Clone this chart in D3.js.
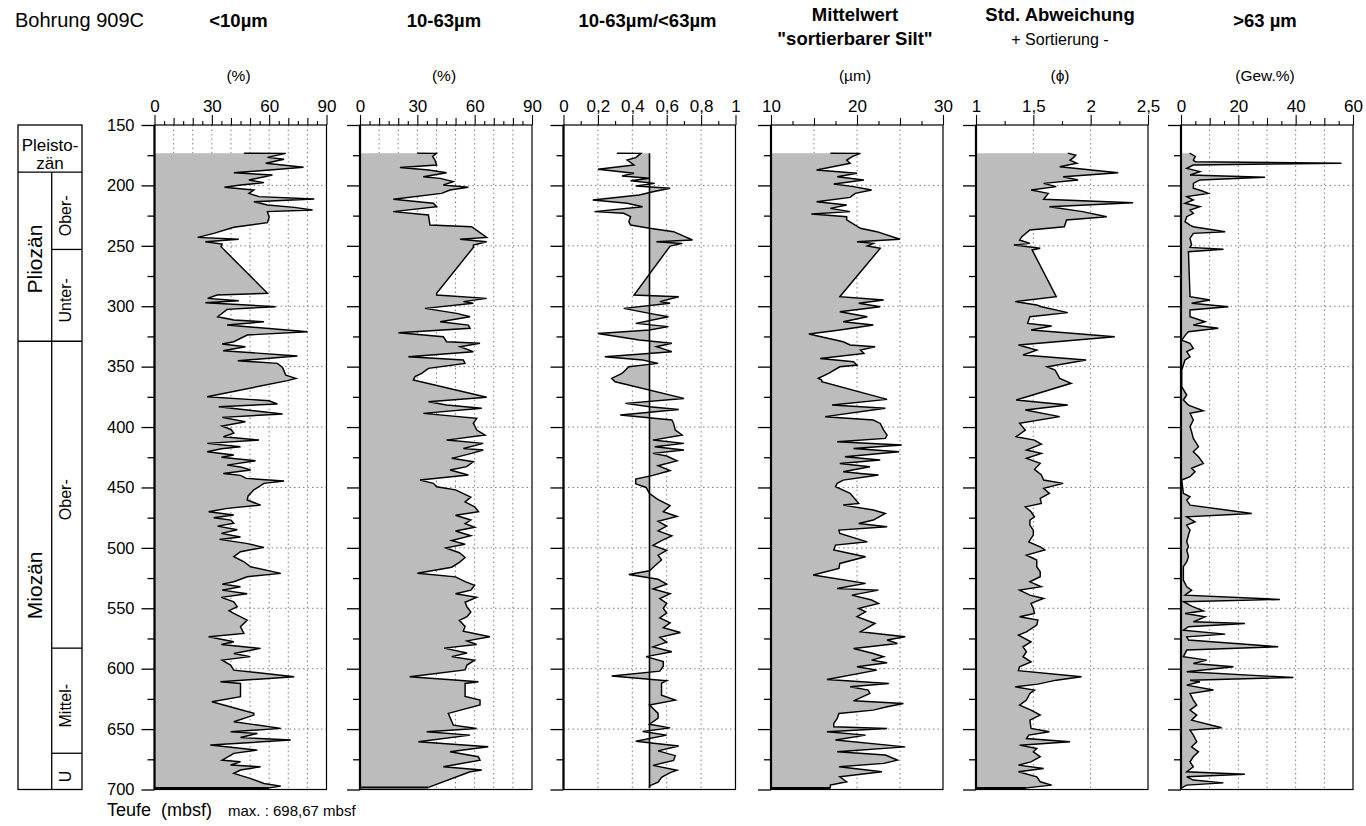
<!DOCTYPE html>
<html><head><meta charset="utf-8">
<script src="https://cdn.jsdelivr.net/npm/d3@7"></script>
<style>
body{margin:0;background:#fff}
svg{display:block}
text{font-family:"Liberation Sans",Arial,Helvetica,sans-serif;fill:#000}
</style></head>
<body><svg id="chart" width="1366" height="826"></svg>
<script>
// ---------------- DATA ----------------
const depthTicks = [150,200,250,300,350,400,450,500,550,600,650,700];
const depthMinor = [175,225,275,325,375,425,475,525,575,625,675];
const depthGrid = [200,250,300,350,400,450,500,550,600,650];

const epochNames = ["Pliozän","Miozän"];
const epochTops = [189,329];
const epochBottoms = [329,700];
const epochLabelDepth = [261,531];
const pleistoTop = 150, pleistoBottom = 189;
const subNames = ["Ober-","Unter-","Ober-","Mittel-","U"];
const subTops = [189,253,329,583,670];
const subBottoms = [253,329,583,670,700];

// <10 µm (%)
const depth1 = [173.3,173.5,176.8,178.4,181.7,185.0,189.5,191.4,195.5,197.7,199.7,201.6,203.8,206.6,209.3,211.3,213.5,216.2,218.2,220.4,221.7,226.4,230.8,234.7,239.7,243.0,244.6,246.6,248.5,250.7,289.3,290.7,293.5,295.4,297.1,300.4,302.6,308.7,311.4,312.8,315.6,321.1,323.8,329.4,331.3,333.5,336.8,341.2,345.1,347.3,350.6,357.0,359.7,361.6,374.9,378.2,380.9,383.2,385.9,389.2,392.0,395.6,399.2,402,405,408,410.8,413.5,416.3,418,420.4,423.2,425,427.9,431.5,433,435.6,438.4,440,442.5,444.7,446.6,452,457,460.4,464.6,467.3,470.1,472.8,475,477,479.7,482,485,488,491,493,496.3,499.6,503.2,507.3,511.5,515.6,521.1,523.9,528,530,532.2,535,538,541,544.6,548.7,552,554.2,559.8,565.3,570.8,573.6,577.7,580,583.2,587.4,590,592.9,597,601.2,606.7,610.8,612.2,623.2,627.4,637,638.4,643.9,649.4,652.2,653.6,657,659.1,663.2,667.4,670.1,675.7,677,679.8,681.2,683.9,686.7,690.8,695,697.2,698.67];
const lt10 = [46.8,68.7,59.1,67.8,58.2,78.0,41.5,61.7,49.4,57.3,45.0,36.6,52.0,49.4,54.7,83.6,52.0,59.1,73.1,82.7,59.1,60.0,59.1,41.5,31.0,22.6,44.1,26.6,35.4,34.8,59.1,32.7,27.8,44.1,26.6,63.4,38.0,33.1,41.5,57.3,38.0,80.1,48.5,41.5,35.4,47.6,35.9,74.8,43.6,64.3,67.0,68.7,74.0,69.6,27.5,59.9,64.3,33.6,48.5,67.0,35.4,47.6,35.4,40,41.5,36,54.7,27.5,45,35,27.5,41.5,35,52.9,38,45,50.3,36,45,48,67.8,57.3,52,49,48.5,55.5,38,28.3,41.5,31,40,41.5,33,43.3,35,45,34,48,57.3,45,41.5,46.8,50.3,66.1,48.5,41.5,35.4,45,35.4,48.5,35,41.5,43.3,39,41.5,48.5,45,46.8,28.3,41.5,35,55.5,41.5,50,35.4,39.8,41.5,73.1,34.5,45,45,30,52,52,41.5,66.1,39.8,53.8,45,71.3,29.2,53.8,41.5,35.4,45,39.8,55.5,45,41.5,50,57.3,66.1,60];

// 10-63 µm (%)
const depth2 = [173.3,173.5,176,179,183.1,185.1,187.3,189.5,192.8,194.2,196.9,199.7,201.6,203.8,206.6,211.5,214.8,217.6,221.7,224.5,232.8,234.2,243,244.6,246.6,249.3,251.3,289.3,290.7,293.5,296.2,297.6,301.8,305.9,308.7,312.8,315.6,318.3,321.9,325.2,329.4,330.7,333.5,337.6,341.8,344.5,347.3,351.4,355.6,358.3,361.1,375.4,379,381.8,384.5,388.7,392.8,396.9,402.5,406.6,410.8,413.5,417.7,419,421.8,425.9,428.7,432.8,435.6,439.7,443.9,446.6,449.4,452,458,462,466,470,473,477,480,483,486,490,494,497,500,504,508,512,516,521,524,528,531,535,538,541,545,549,553,557,560,565,569,573.6,577,580,583,587,590,593,597,601,606.7,610.8,612.2,623,626,630.1,637,646.7,649.5,652.2,655,660.5,664.6,668.8,672.9,675.7,681.2,683.9,685.3,698.3];
const silt = [30,40,38,39.2,40.1,20.9,36,45.3,33.1,41.9,48.8,43.6,56.7,47.1,42.7,17.4,38.4,40.1,17.4,35.8,36.6,58.4,66.3,52.3,66.3,59.3,59.3,40.1,40.1,66.3,54.1,59.3,34,50.6,57.6,41.9,56.7,57.6,20.1,43.6,45.3,62.8,52.3,59.3,25.3,54.1,54.9,35.8,32.3,28.8,27.9,66.3,35.8,45.3,63.7,33.1,61.1,59.3,61.1,65.4,45.3,64.5,54.1,64.5,58.4,48,59.3,55.8,47.1,56.7,31.4,38.4,40.1,50,58,55,60,62,50,58,55,60,50,58,48,55,45,52,55,52,48,30,50,55,60,58,50,61,55,56,58,56,52,55,54,68,56,61,44,56,48,60,56,55,26,62,55,55,62.8,62.8,46.2,48.8,61,34.9,57.6,30.5,67.1,47.1,61.9,62.8,43.6,63.7,57.6,35.8];

// 10-63 µm / <63 µm
const depth3 = [173.3,173.5,177,179,183.1,186.7,190,192.2,194.1,196.1,198.3,200.5,202.4,205.2,207.9,212.1,214.8,217.6,221.7,223.1,225.9,230,232.8,235.5,238.3,245.2,246.6,248,250.2,252.1,290.7,292.1,296.2,297.6,301.8,305.9,308.7,314.2,316.9,319.7,322.5,328,330.7,333.5,337.6,341.8,344.5,347.3,350.1,355.6,359.7,362.5,376.3,380.4,383.2,385.4,390.1,394.2,397,402.5,406.6,410.8,413.5,416.3,419,421.8,424,428,432,436,440,443,447,450,455,460,465,470,474,478,482,486,490,494,498,502,506,510,515,519,522,526,530,534,538,542,546,550,554,558,562,566,570,574,578,582,586,590,594,598,602,606,610,612,622,626,630,637,641,646,649,652,655,660,664,668,672,676,680,684,686,690,694,697,698.67];
const ratio = [0.31,0.45,0.42,0.37,0.41,0.20,0.41,0.34,0.50,0.39,0.53,0.42,0.62,0.52,0.44,0.17,0.37,0.46,0.18,0.35,0.39,0.38,0.39,0.50,0.64,0.75,0.54,0.69,0.62,0.61,0.41,0.67,0.56,0.62,0.35,0.50,0.61,0.42,0.61,0.50,0.20,0.44,0.63,0.54,0.63,0.24,0.46,0.55,0.38,0.34,0.28,0.30,0.70,0.36,0.50,0.67,0.33,0.63,0.64,0.65,0.69,0.52,0.70,0.53,0.70,0.52,0.6,0.66,0.55,0.62,0.52,0.42,0.42,0.48,0.50,0.55,0.62,0.58,0.66,0.55,0.60,0.55,0.63,0.57,0.52,0.60,0.55,0.57,0.53,0.5,0.38,0.55,0.6,0.52,0.62,0.56,0.6,0.58,0.6,0.56,0.62,0.58,0.68,0.56,0.6,0.52,0.63,0.48,0.58,0.58,0.56,0.28,0.6,0.57,0.57,0.65,0.5,0.55,0.55,0.50,0.62,0.46,0.6,0.42,0.67,0.55,0.65,0.64,0.52,0.66,0.62,0.57,0.55,0.5,0.5];

// Mittelwert "sortierbarer Silt" (µm)
const depth4 = [173.3,173.5,176,179,181.7,187.3,190,192.8,195.5,198.8,201,203.8,206.6,209.9,213.5,216.2,219,221.7,223.7,225.9,228.6,235.5,238.3,244.6,246.6,248,250.2,252.1,292.1,294.9,297.6,300.4,304.5,308.7,312.8,315.6,319.7,323,329.4,332.1,333.5,336.3,339,343.2,345.9,348.7,350.1,355.6,359.7,361.1,362.5,377.1,381.8,384.5,391.4,394.2,397,402.5,406.6,409.4,412.1,414.9,417.7,420.4,424.6,427.3,430.1,432.8,437,438.4,439.7,443.9,446.6,449.4,454.9,463.2,464.6,468.7,471.5,477,479.8,482.5,485.3,488,495,497.7,501.8,504.6,507.4,512.9,517,522.5,529.4,533.6,535,539.1,543.2,546,550.1,552.9,557,562.6,569.5,573.6,576.3,579.1,583.3,587.4,590.1,592.9,595.1,598.4,601.2,608.9,612.2,615,617.7,620.5,626.6,628.8,631.5,634.3,637.1,641.2,645.3,648.1,649.5,652.2,655,659.1,664.7,668.8,671.5,675.7,678.4,681.2,685.3,689.5,693.6,696.4,698.67];
const meanSS = [16.9,20.4,19.5,18.8,19.2,15.3,20,17.7,20.8,17.3,19.6,21.7,19.8,19.2,15.3,18.8,16.9,19.2,14.7,18.8,18.8,20.4,22.3,25,20,21.9,21.2,22.7,18,23.1,20.2,22.7,18,21.2,18.4,21.9,18,14.4,18.4,19.2,22.1,20.4,20.8,15.7,19.6,20,18,16.7,15.5,15.9,15.9,23.5,17.1,23.3,16.3,21.9,22.7,23.1,23.5,23.3,17.7,25.2,19.6,24.9,18.6,22.7,18,21.5,18.4,20.4,22.5,18.4,17.7,17.5,19.2,20.2,18.4,21.9,23.3,21.9,20.2,23.5,17.9,18,21.2,17.5,17.3,19.2,21,18,17.9,14.9,21,17.7,22.5,19.4,21.7,22.5,20.2,21,20,22.1,20.4,25.6,23.5,24.7,19.6,21.9,23.1,21.7,23.5,20,22.3,16.5,23.7,19.2,21.3,21.5,19.6,25.4,23.5,21.9,17.9,17.7,17.3,17.3,23.5,16.5,21,17.5,25.6,17.7,23.3,24.7,23.1,17.9,22.9,18,18.8,16.9,16.9];

// Std. Abweichung (phi)
const depth5 = [173.3,175,177,179,181.7,184.5,189.5,192.8,195.5,198.3,201,203.8,206.6,211.5,214.3,217.6,221.7,225.9,228.6,234.2,236.9,242.4,245.2,248,249.4,252,253.5,292.1,296.2,299,300.4,305.3,308.7,314.2,316.4,319.7,325.2,332.1,336.3,340.4,344.5,350.1,352.8,359.7,363.8,377.6,381.8,385.9,391.4,396.9,402.5,408,410.8,414.1,419,421.8,425.9,430.1,435,439.7,443.9,446.6,450.8,454.9,459.1,463.2,466,470.1,474.3,477,481.2,485.3,489.4,495,499.1,501.8,506,510.1,515.6,519.8,523.9,528.1,532.2,535,539.1,541.9,546,550.1,554.3,557,559.8,563.9,569.5,572.2,577.7,581.9,586,590.1,594.3,598.4,601.7,606.7,609.5,612.8,615,617.7,620.5,626,630.2,634.3,638.4,642.6,649.5,652.2,655,657.8,660.5,663.3,666,668.8,672.9,677.1,679.8,682.6,685.3,689.5,693.6,696.4,698.67];
const stdDev = [1.8,1.87,1.85,1.82,1.88,1.73,2.24,1.76,1.89,1.59,1.70,1.48,1.63,1.59,2.37,1.64,1.93,2.14,1.79,1.77,1.47,1.40,1.38,1.47,1.33,1.56,1.49,1.70,1.34,1.53,1.57,1.80,1.47,1.45,1.66,1.48,2.21,1.37,1.53,1.41,1.96,1.62,1.69,1.73,1.83,1.35,1.80,1.43,1.73,1.38,1.43,1.35,1.51,1.57,1.44,1.57,1.44,1.56,1.51,1.57,1.59,1.76,1.59,1.64,1.56,1.57,1.43,1.48,1.51,1.47,1.47,1.50,1.50,1.46,1.56,1.60,1.44,1.53,1.53,1.56,1.56,1.47,1.57,1.38,1.47,1.59,1.48,1.50,1.51,1.38,1.54,1.53,1.44,1.37,1.48,1.41,1.44,1.41,1.48,1.38,1.37,1.92,1.70,1.54,1.34,1.51,1.47,1.44,1.38,1.48,1.56,1.47,1.48,1.64,1.46,1.44,1.82,1.38,1.53,1.50,1.56,1.48,1.37,1.59,1.37,1.53,1.56,1.66,1.44];

// >63 µm (Gew.%)
const depth6 = [173.3,176,179,180.4,181.7,183.1,185.9,188.6,191.4,193.3,195.5,198.3,202.4,204.4,206.6,209.3,212.1,214.8,217.6,220.4,223.1,225.9,230,232.8,234.2,238.3,239.7,243.8,249.3,251.3,252.9,254.9,292.1,294.9,297.6,300.4,303.1,308.7,312.8,315.6,318.3,321.1,322.5,328,330.7,334.9,337.6,341.8,344.5,348.7,352.8,355.6,366.6,373.5,377.6,381.8,386.5,388.7,394.2,399.7,403.9,409.4,416.3,420.4,424.6,430.1,434.2,437,441.1,443.9,454.9,457.7,460.5,464.6,471.5,474.3,478.4,481.2,485.3,489.4,495,499.1,501.8,507.4,511.5,515.6,521.2,526.7,532.2,535,539.1,542.7,544.6,548.2,552.1,554.3,557,561.2,562.6,565.3,568.1,571.4,573.6,576.3,581.9,584.6,590.1,592.9,595.7,598.4,602.6,607.3,609.5,610.8,613.6,617.7,620.5,626,630.2,634.3,638.4,642.6,648.9,650.8,655,660.5,664.7,668.8,672.9,677.1,681.2,685.3,687.3,689.5,692.2,694.5,696.4,698.67];
const sand = [3,5,4.3,5,56,4.3,2,6.6,3.15,29.3,6.6,4.3,4.3,7.2,9.5,2,4.3,1.4,6.6,3.15,4.3,2,1.4,3.15,4.3,15.4,4.3,3.15,3.7,3.15,14.8,2.6,3.15,10.1,3.7,16.5,3.15,3.15,8.4,4.3,13,2.6,2,0.25,3.15,4.3,2,3.15,1.4,0.83,0.25,0.25,0.25,2,0.83,2.6,7.8,3.15,4.3,3.15,3.7,4.3,6.1,4.3,6.1,7.8,3.7,4.9,3.15,0.25,0.83,3.15,2,3.15,24.7,2,4.9,2,3.15,2.6,2,2.6,2,2.6,2,0.83,0.83,0.83,2,3.7,1.4,34.5,0.83,3.7,7.8,1.4,8.4,4.3,22.3,2.6,0.83,15.4,2,2.6,33.9,2,0.83,9,4.3,18.3,2,39.2,3.15,6.6,2,11.3,3.15,4.3,5.5,3.15,5.5,3.7,14.2,3.15,4.3,5.5,3.7,6.1,4.3,3.15,4.3,2,22.3,2,4.3,14.8,2,0.25];

// axis tick definitions
const ticks1 = [0,30,60,90], mid1 = [10,20,40,50,70,80], minor1 = [5,15,25,35,45,55,65,75,85], grid1 = [10,20,30,40,50,60,70,80];
const ticks3 = [0,0.2,0.4,0.6,0.8,1], minor3 = [0.1,0.3,0.5,0.7,0.9], grid3 = [0.2,0.4,0.6,0.8];
const ticks4 = [10,20,30], mid4 = [15,25], minor4 = [12.5,17.5,22.5,27.5], grid4 = [15,20,25];
const ticks5 = [1,1.5,2,2.5], minor5 = [1.25,1.75,2.25], grid5 = [1.5,2];
const ticks6 = [0,20,40,60], mid6 = [10,30,50], minor6 = [5,15,25,35,45,55], grid6 = [10,20,30,40,50];

// ---------------- LAYOUT ----------------
const svg = d3.select("#chart");
const W = 172;
const FILL = "#bcbcbc";
const y = d3.scaleLinear().domain([150,700]).range([125,789.5]);
const loc = d3.formatLocale({decimal:",",thousands:".",grouping:[3],currency:["","€"]});
const fmt = loc.format("~g");

const panels = [
  {x0:154.5, domain:[0,90], labels:ticks1, mid:mid1, minor:minor1, grid:grid1, depth:depth1, vals:lt10, base:0, title:["<10µm"], unit:"(%)"},
  {x0:360, domain:[0,90], labels:ticks1, mid:mid1, minor:minor1, grid:grid1, depth:depth2, vals:silt, base:0, title:["10-63µm"], unit:"(%)"},
  {x0:563.5, domain:[0,1], labels:ticks3, mid:[], minor:minor3, grid:grid3, depth:depth3, vals:ratio, base:0.5, title:["10-63µm/<63µm"], unit:""},
  {x0:771, domain:[10,30], labels:ticks4, mid:mid4, minor:minor4, grid:grid4, depth:depth4, vals:meanSS, base:10, title:["Mittelwert","\"sortierbarer Silt\""], unit:"(µm)"},
  {x0:976, domain:[1,2.5], labels:ticks5, mid:[], minor:minor5, grid:grid5, depth:depth5, vals:stdDev, base:1, title:["Std. Abweichung"], sub:"+ Sortierung -", unit:"(ϕ)"},
  {x0:1181, domain:[0,60], labels:ticks6, mid:mid6, minor:minor6, grid:grid6, depth:depth6, vals:sand, base:0, title:[">63 µm"], unit:"(Gew.%)"}
];

// header
svg.append("text").attr("x",15).attr("y",27).attr("font-size",20).text("Bohrung 909C");

panels.forEach((p,i)=>{
  const x = d3.scaleLinear().domain(p.domain).range([p.x0, p.x0+W]);
  const g = svg.append("g");
  const cx = p.x0 + W/2 - 2;
  if (p.title.length === 1 && !p.sub) {
    g.append("text").attr("x",cx).attr("y",27).attr("text-anchor","middle").attr("font-size",18.5).attr("font-weight","bold").text(p.title[0]);
  } else if (p.title.length === 2) {
    g.append("text").attr("x",cx).attr("y",21).attr("text-anchor","middle").attr("font-size",18.5).attr("font-weight","bold").text(p.title[0]);
    g.append("text").attr("x",cx).attr("y",45).attr("text-anchor","middle").attr("font-size",18.5).attr("font-weight","bold").text(p.title[1]);
  } else {
    g.append("text").attr("x",cx).attr("y",21).attr("text-anchor","middle").attr("font-size",18.5).attr("font-weight","bold").text(p.title[0]);
    g.append("text").attr("x",cx).attr("y",45).attr("text-anchor","middle").attr("font-size",16).text(p.sub);
  }
  if (p.unit) g.append("text").attr("x",cx).attr("y",81).attr("text-anchor","middle").attr("font-size",15.5).text(p.unit);

  g.selectAll(".vg").data(p.grid).join("line")
    .attr("x1",d=>x(d)).attr("x2",d=>x(d)).attr("y1",y(150)).attr("y2",y(700))
    .attr("stroke","#707070").attr("stroke-width",0.9).attr("stroke-dasharray","1.5,3");
  g.selectAll(".hg").data(depthGrid).join("line")
    .attr("x1",p.x0).attr("x2",p.x0+W).attr("y1",d=>y(d)).attr("y2",d=>y(d))
    .attr("stroke","#707070").attr("stroke-width",0.9).attr("stroke-dasharray","1.5,3");

  const pts = p.depth.map((d,j)=>({d:d, v:p.vals[j]})).filter(o=>o.v!=null && !isNaN(o.v));
  g.append("path").datum(pts)
    .attr("d", d3.area().y(d=>y(d.d)).x0(x(p.base)).x1(d=>x(d.v)))
    .attr("fill",FILL);
  g.append("path").datum(pts)
    .attr("d", d3.line().x(d=>x(d.v)).y(d=>y(d.d)))
    .attr("fill","none").attr("stroke","#000").attr("stroke-width",1.45).attr("stroke-linejoin","miter");
  const last = pts[pts.length-1];
  g.append("line").attr("x1",x(p.base)).attr("x2",x(last.v)).attr("y1",y(last.d)).attr("y2",y(last.d))
    .attr("stroke","#000").attr("stroke-width",2);
  if (p.base !== p.domain[0]) {
    g.append("line").attr("x1",x(p.base)).attr("x2",x(p.base)).attr("y1",y(pts[0].d)).attr("y2",y(last.d))
      .attr("stroke","#000").attr("stroke-width",1.6);
  }

  g.append("rect").attr("x",p.x0).attr("y",y(150)).attr("width",W).attr("height",y(700)-y(150))
    .attr("fill","none").attr("stroke","#000").attr("stroke-width",1.2);
  g.append("line").attr("x1",p.x0).attr("x2",p.x0).attr("y1",y(150)).attr("y2",y(700))
    .attr("stroke","#000").attr("stroke-width",2.2);

  const top = g.append("g").attr("transform",`translate(0,${y(150)})`);
  top.append("g").call(d3.axisTop(x).tickValues(p.labels).tickSize(10).tickPadding(3).tickFormat(fmt))
    .call(s=>{s.select(".domain").remove(); s.selectAll("text").attr("font-size",17).attr("font-family",null).attr("fill","#000");});
  if (p.mid.length) top.append("g").call(d3.axisTop(x).tickValues(p.mid).tickSize(7).tickFormat(""))
    .call(s=>s.select(".domain").remove());
  top.append("g").call(d3.axisTop(x).tickValues(p.minor).tickSize(4).tickFormat(""))
    .call(s=>s.select(".domain").remove());
  top.selectAll("line").attr("stroke","#000").attr("stroke-width",1.1);

  const left = g.append("g").attr("transform",`translate(${p.x0},0)`);
  left.append("g").call(d3.axisLeft(y).tickValues(depthTicks).tickSize(13).tickPadding(7).tickFormat(i===0?d3.format("d"):""))
    .call(s=>{s.select(".domain").remove(); s.selectAll("text").attr("font-size",16.5).attr("font-family",null).attr("fill","#000");});
  left.append("g").call(d3.axisLeft(y).tickValues(depthMinor).tickSize(7).tickFormat(""))
    .call(s=>s.select(".domain").remove());
  left.selectAll("line").attr("stroke","#000").attr("stroke-width",1.3);
});

svg.append("text").attr("x",107).attr("y",816).attr("font-size",18).attr("xml:space","preserve").text("Teufe  (mbsf)");
svg.append("text").attr("x",228).attr("y",816).attr("font-size",15).text("max. : 698,67 mbsf");

// stratigraphic column
const sx0 = 18, sx1 = 51.7, sx2 = 82;
const strat = svg.append("g").attr("stroke","#000").attr("stroke-width",1.3);
strat.append("rect").attr("x",sx0).attr("y",y(150)).attr("width",sx2-sx0).attr("height",y(700)-y(150)).attr("fill","none");
strat.selectAll(".eb").data(epochTops).join("line").attr("x1",sx0).attr("x2",sx2).attr("y1",d=>y(d)).attr("y2",d=>y(d));
strat.append("line").attr("x1",sx1).attr("x2",sx1).attr("y1",y(pleistoBottom)).attr("y2",y(700));
strat.selectAll(".sb").data(subTops.filter(d=>epochTops.indexOf(d)<0)).join("line").attr("x1",sx1).attr("x2",sx2).attr("y1",d=>y(d)).attr("y2",d=>y(d));

const pm = (sx0+sx2)/2;
svg.append("text").attr("x",pm).attr("y",y(pleistoTop)+26).attr("text-anchor","middle").attr("font-size",17).text("Pleisto-");
svg.append("text").attr("x",pm).attr("y",y(pleistoTop)+44).attr("text-anchor","middle").attr("font-size",17).text("zän");
epochNames.forEach((n,i)=>{
  svg.append("text").attr("transform",`translate(${(sx0+sx1)/2},${y(epochLabelDepth[i])}) rotate(-90)`)
    .attr("text-anchor","middle").attr("dominant-baseline","central").attr("font-size",21).text(n);
});
subNames.forEach((n,i)=>{
  const cy = (y(subTops[i])+y(subBottoms[i]))/2 + 5;
  svg.append("text").attr("transform",`translate(${(sx1+sx2)/2 - 1},${cy}) rotate(-90)`)
    .attr("text-anchor","middle").attr("dominant-baseline","central").attr("font-size",16).text(n);
});
</script>
</body></html>
